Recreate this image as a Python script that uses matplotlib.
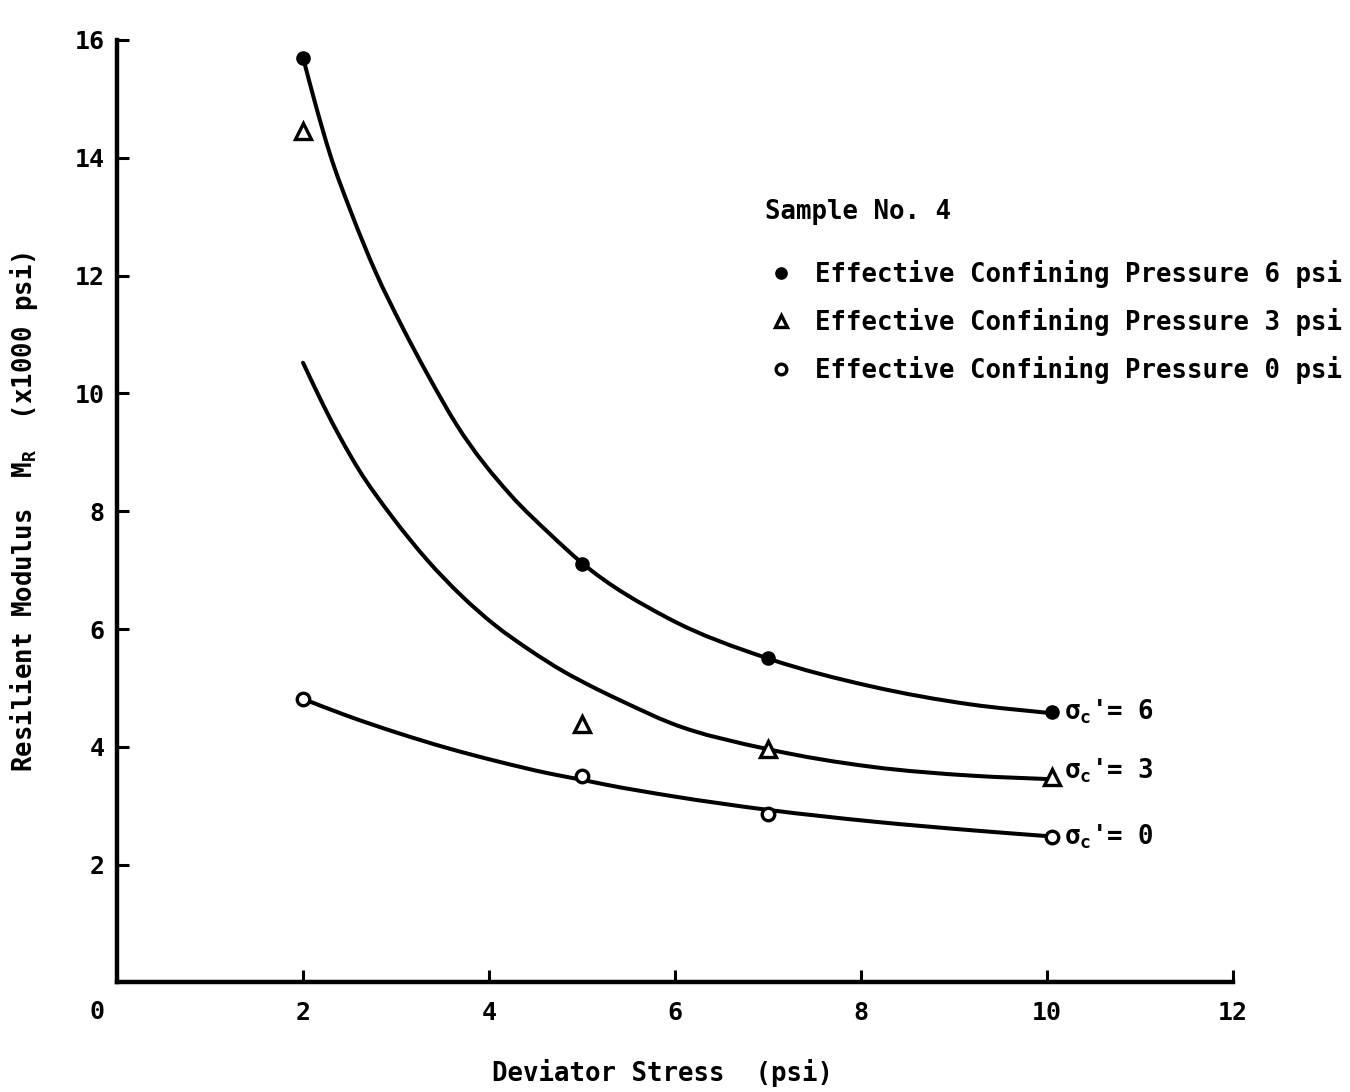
import matplotlib
matplotlib.use("Agg")
import matplotlib.pyplot as plt
from matplotlib.path import Path
from matplotlib.patches import PathPatch

# deviator stress at which each test was run (psi)
stress = [2.0, 5.0, 7.0, 10.05]

# measured resilient modulus (x1000 psi) for each confining pressure
mr_6psi = [15.7, 7.1, 5.5, 4.6]
mr_3psi = [14.45, 4.38, 3.96, 3.48]
mr_0psi = [4.81, 3.51, 2.86, 2.47]

# hand-fitted curves traced along each set of points
curve6_x = [2.0, 2.14, 2.29, 2.52, 2.78, 3.06, 3.35, 3.65, 4.24, 4.65, 5.0, 5.93, 7.0, 8.1, 9.18, 10.05]
curve6_y = [15.7, 14.87, 14.06, 13.06, 12.06, 11.15, 10.29, 9.47, 8.26, 7.62, 7.12, 6.18, 5.50, 5.03, 4.72, 4.57]

curve3_x = [2.0, 2.215, 2.40, 2.59, 2.96, 3.33, 3.70, 4.06, 4.43, 4.79, 5.16, 5.45, 5.96, 7.0, 8.12, 9.2, 10.05]
curve3_y = [10.52, 9.81, 9.25, 8.73, 7.90, 7.18, 6.57, 6.07, 5.65, 5.29, 4.98, 4.76, 4.40, 3.96, 3.66, 3.51, 3.45]

curve0_x = [1.99, 2.47, 3.01, 3.55, 4.10, 4.64, 5.0, 5.25, 5.98, 7.0, 8.14, 9.22, 10.04]
curve0_y = [4.82, 4.53, 4.24, 3.98, 3.75, 3.55, 3.44, 3.36, 3.16, 2.93, 2.73, 2.58, 2.48]

legend_labels = [
    "Effective Confining Pressure 6 psi",
    "Effective Confining Pressure 3 psi",
    "Effective Confining Pressure 0 psi",
]
end_labels = [r"$\sigma_\mathrm{c}$'= 6", r"$\sigma_\mathrm{c}$'= 3", r"$\sigma_\mathrm{c}$'= 0"]

x_ticks = [2, 4, 6, 8, 10, 12]
y_ticks = [2, 4, 6, 8, 10, 12, 14, 16]


def smooth_curve(xs, ys):
    """Cubic Hermite path (as bezier segments) through the traced points."""
    n = len(xs)
    h = [xs[i + 1] - xs[i] for i in range(n - 1)]
    d = [(ys[i + 1] - ys[i]) / h[i] for i in range(n - 1)]
    m = [d[0]]
    for i in range(1, n - 1):
        m.append((d[i - 1] * h[i] + d[i] * h[i - 1]) / (h[i - 1] + h[i]))
    m.append(d[-1])
    verts = [(xs[0], ys[0])]
    codes = [Path.MOVETO]
    for i in range(n - 1):
        verts.append((xs[i] + h[i] / 3, ys[i] + m[i] * h[i] / 3))
        verts.append((xs[i + 1] - h[i] / 3, ys[i + 1] - m[i + 1] * h[i] / 3))
        verts.append((xs[i + 1], ys[i + 1]))
        codes += [Path.CURVE4] * 3
    return Path(verts, codes)


plt.rcParams["font.family"] = "DejaVu Sans Mono"
plt.rcParams["font.weight"] = "bold"
plt.rcParams["axes.labelweight"] = "bold"
plt.rcParams["mathtext.fontset"] = "custom"
plt.rcParams["mathtext.rm"] = "DejaVu Sans Mono:bold"
plt.rcParams["mathtext.it"] = "DejaVu Sans Mono:bold"
plt.rcParams["mathtext.bf"] = "DejaVu Sans Mono:bold"

fs = 18.5

fig = plt.figure(figsize=(13.5, 10.92), dpi=100)
ax = fig.add_axes([0.0867, 0.1003, 0.8267, 0.8631])

for cx, cy in [(curve6_x, curve6_y), (curve3_x, curve3_y), (curve0_x, curve0_y)]:
    ax.add_patch(PathPatch(smooth_curve(cx, cy), facecolor="none", edgecolor="black",
                           lw=2.9, capstyle="round", zorder=2))

h6, = ax.plot(stress, mr_6psi, "o", ms=9.5, color="black", zorder=3, label=legend_labels[0])
h3, = ax.plot(stress, mr_3psi, "^", ms=11, mfc="white", mec="black", mew=2.4,
              zorder=3, label=legend_labels[1])
h0, = ax.plot(stress, mr_0psi, "o", ms=9, mfc="white", mec="black", mew=2.4,
              zorder=3, label=legend_labels[2])

# sigma_c' labels at the right end of each curve
for series, text, dy in zip([mr_6psi, mr_3psi, mr_0psi], end_labels, [0, 5, 0]):
    ax.annotate(text, xy=(stress[-1], series[-1]), xytext=(9, dy),
                textcoords="offset points", ha="left", va="center", fontsize=fs)

ax.set_xlim(0, 12)
ax.set_ylim(0, 16)
ax.set_xticks(x_ticks)
ax.set_yticks(y_ticks)
ax.spines["top"].set_visible(False)
ax.spines["right"].set_visible(False)
ax.spines["left"].set_linewidth(3.2)
ax.spines["bottom"].set_linewidth(3.2)
ax.tick_params(direction="in", length=8.6, width=2.2, labelsize=18)
ax.tick_params(axis="x", pad=13)
ax.tick_params(axis="y", pad=9)

# shared origin label
ax.annotate("0", xy=(0, 0), xytext=(-14.5, -21), textcoords="offset points",
            ha="center", va="center", fontsize=18)

ax.set_xlabel("Deviator Stress  (psi)", fontsize=fs, va="center")
ax.xaxis.set_label_coords(0.489, -0.096)
ax.set_ylabel(r"Resilient Modulus  M$_\mathrm{R}$  (x1000 psi)", fontsize=fs, va="center")
ax.yaxis.set_label_coords(-0.083, 0.5)

fig.text(765 / 1350, 1 - 212 / 1092, "Sample No. 4", fontsize=fs, va="center", ha="left")
fig.legend(handles=[h6, h3, h0], loc="upper left", bbox_to_anchor=(0.5596, 0.774),
           frameon=False, borderpad=0, handlelength=1.0, handletextpad=0.8,
           labelspacing=0.78, fontsize=fs, markerscale=0.85)

fig.savefig("out.png", dpi=100, facecolor="white")
